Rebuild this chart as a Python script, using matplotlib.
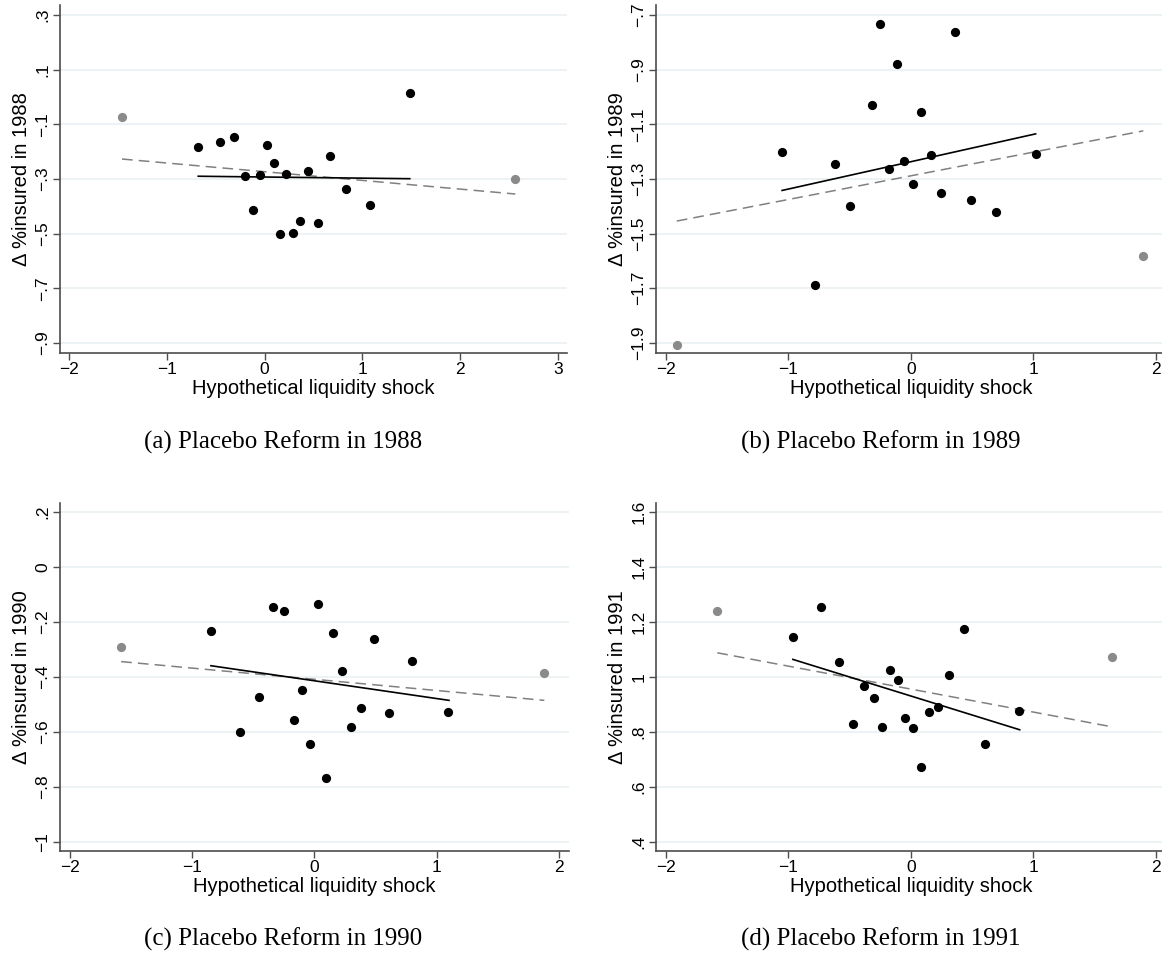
import numpy as np
import matplotlib
matplotlib.use('Agg')
import matplotlib.pyplot as plt

plt.rcParams['font.family'] = ['Liberation Sans', 'DejaVu Sans']

# ---- data ----
# 1988
x88_in = [1.485, -0.678, -0.451, -0.311, 0.030, 0.095, 0.670, -0.205, -0.042,
          0.223, 0.447, 0.837, 1.076, -0.114, 0.367, 0.549, 0.159, 0.292]
y88_in = [0.013, -0.183, -0.165, -0.146, -0.174, -0.243, -0.216, -0.290, -0.284,
          -0.281, -0.270, -0.335, -0.395, -0.413, -0.452, -0.460, -0.503, -0.496]
x88_out = [-1.458, 2.564]
y88_out = [-0.073, -0.300]
fit88_x = [-0.678, 1.485]
fit88_y = [-0.290, -0.299]
all88_x = [-1.458, 2.564]
all88_y = [-0.227, -0.355]

# 1989
x89_in = [-0.249, 0.356, -0.116, -0.322, 0.082, -1.052, -0.623, -0.055, 0.161,
          -0.182, 1.018, 0.015, 0.249, -0.498, 0.492, 0.693, -0.787, -0.404]
y89_in = [-0.733, -0.762, -0.878, -1.028, -1.055, -1.200, -1.246, -1.236, -1.214,
          -1.263, -1.210, -1.317, -1.351, -1.400, -1.377, -1.421, -1.689, -2.000]
x89_out = [-1.912, 1.897]
y89_out = [-1.907, -1.580]
fit89_x = [-1.052, 1.018]
fit89_y = [-1.342, -1.135]
all89_x = [-1.912, 1.897]
all89_y = [-1.454, -1.124]

# 1990
x90_in = [-0.846, -0.341, -0.248, 0.030, 0.154, 0.486, 0.798, 0.224, -0.453,
          -0.100, 0.384, 0.613, 1.094, -0.169, 0.296, -0.607, -0.033, 0.094]
y90_in = [-0.234, -0.147, -0.161, -0.135, -0.239, -0.263, -0.342, -0.380, -0.474,
          -0.446, -0.511, -0.532, -0.526, -0.557, -0.582, -0.601, -0.645, -0.768]
x90_out = [-1.580, 1.879]
y90_out = [-0.290, -0.384]
fit90_x = [-0.846, 1.100]
fit90_y = [-0.359, -0.485]
all90_x = [-1.580, 1.879]
all90_y = [-0.344, -0.485]

# 1991
x91_in = [-0.736, -0.964, 0.432, -0.584, -0.170, 0.313, -0.106, -0.383, -0.304,
          0.222, 0.146, 0.884, -0.046, -0.474, -0.234, 0.015, 0.602, 0.079]
y91_in = [1.253, 1.147, 1.176, 1.054, 1.025, 1.009, 0.988, 0.968, 0.922,
          0.892, 0.874, 0.875, 0.852, 0.829, 0.818, 0.814, 0.757, 0.672]
x91_out = [-1.581, 1.638]
y91_out = [1.240, 1.073]
fit91_x = [-0.964, 0.888]
fit91_y = [1.064, 0.808]
all91_x = [-1.581, 1.638]
all91_y = [1.088, 0.819]

years = ['1988', '1989', '1990', '1991']
letters = ['a', 'b', 'c', 'd']
xticks88 = [-2, -1, 0, 1, 2, 3]
xticks_other = [-2, -1, 0, 1, 2]
yticks88 = [0.3, 0.1, -0.1, -0.3, -0.5, -0.7, -0.9]
yticks89 = [-0.7, -0.9, -1.1, -1.3, -1.5, -1.7, -1.9]
yticks90 = [0.2, 0, -0.2, -0.4, -0.6, -0.8, -1]
yticks91 = [1.6, 1.4, 1.2, 1, 0.8, 0.6, 0.4]
ytl88 = ['.3', '.1', '\u2212.1', '\u2212.3', '\u2212.5', '\u2212.7', '\u2212.9']
ytl89 = ['\u2212.7', '\u2212.9', '\u22121.1', '\u22121.3', '\u22121.5', '\u22121.7', '\u22121.9']
ytl90 = ['.2', '0', '\u2212.2', '\u2212.4', '\u2212.6', '\u2212.8', '\u22121']
ytl91 = ['1.6', '1.4', '1.2', '1', '.8', '.6', '.4']

panels = [
    (x88_in, y88_in, x88_out, y88_out, fit88_x, fit88_y, all88_x, all88_y,
     xticks88, yticks88, ytl88, (-2.092, 3.092), (-0.9355, 0.3366)),
    (x89_in, y89_in, x89_out, y89_out, fit89_x, fit89_y, all89_x, all89_y,
     xticks_other, yticks89, ytl89, (-2.082, 2.082), (-1.9355, -0.6634)),
    (x90_in, y90_in, x90_out, y90_out, fit90_x, fit90_y, all90_x, all90_y,
     xticks_other, yticks90, ytl90, (-2.08, 2.08), (-1.032, 0.233)),
    (x91_in, y91_in, x91_out, y91_out, fit91_x, fit91_y, all91_x, all91_y,
     xticks_other, yticks91, ytl91, (-2.082, 2.082), (0.368, 1.633)),
]

rects = [[0.0516, 0.6307, 0.4363, 0.3641],
         [0.5645, 0.6307, 0.4389, 0.3641],
         [0.0516, 0.1092, 0.4380, 0.3641],
         [0.5645, 0.1092, 0.4389, 0.3641]]
cap_pos = [(0.2435, 0.537), (0.758, 0.537), (0.2435, 0.0165), (0.758, 0.0165)]

axis_col = '#4d4d4d'
grid_col = '#e8eff1'

fig = plt.figure(figsize=(11.62, 9.55), dpi=100)

for i, p in enumerate(panels):
    xi, yi, xo, yo, fx, fy, ax_, ay_, xt, yt, ytl, xl, yl = p
    ax = fig.add_axes(rects[i])
    for yv in yt:
        ax.axhline(yv, color=grid_col, lw=1.1, zorder=0)
    ax.plot(ax_, ay_, color='#808080', lw=1.1, ls=(0, (7, 4)), zorder=2)
    ax.plot(fx, fy, color='black', lw=1.2, zorder=2)
    ax.scatter(xo, yo, s=44, color='#8a8a8a', lw=0, zorder=3)
    ax.scatter(xi, yi, s=44, color='black', lw=0, zorder=3)
    ax.set_xlim(*xl)
    ax.set_ylim(*yl)
    ax.set_xticks(xt)
    ax.set_xticklabels([str(v).replace('-', '\u2212') for v in xt])
    ax.set_yticks(yt)
    ax.set_yticklabels(ytl, rotation=90, va='center')
    for s in ['top', 'right']:
        ax.spines[s].set_visible(False)
    for s in ['left', 'bottom']:
        ax.spines[s].set_color(axis_col)
        ax.spines[s].set_linewidth(1.2)
    ax.tick_params(direction='out', length=5, width=1.0, color=axis_col,
                   labelsize=12.5, pad=2)
    ax.set_xlabel('Hypothetical liquidity shock', fontsize=14.5, labelpad=1)
    ax.set_ylabel('\u0394 %insured in ' + years[i], fontsize=14.5, labelpad=3)
    fig.text(cap_pos[i][0], cap_pos[i][1],
             '(%s) Placebo Reform in %s' % (letters[i], years[i]),
             ha='center', va='center', fontsize=18, family='Liberation Serif')

fig.savefig('out.png', dpi=100)
